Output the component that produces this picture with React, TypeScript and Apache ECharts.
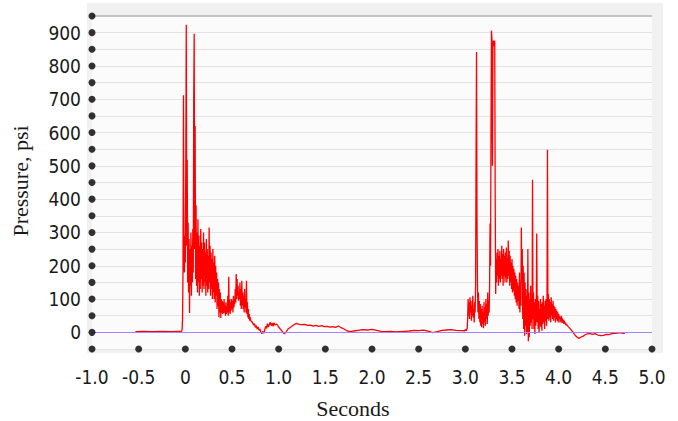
import React, { useEffect, useRef } from "react";
import * as echarts from "echarts";

// Axis ticks
const xTicks = [-1.0, -0.5, 0, 0.5, 1.0, 1.5, 2.0, 2.5, 3.0, 3.5, 4.0, 4.5, 5.0];
const yTicks = [-50, 0, 50, 100, 150, 200, 250, 300, 350, 400, 450, 500, 550, 600, 650, 700, 750, 800, 850, 900, 950];
const yLabelValues = [0, 100, 200, 300, 400, 500, 600, 700, 800, 900];

// Pressure trace (seconds, psi)
const preTrigger: [number, number][] = [
  [-0.535, 2], [-0.45, 3], [-0.35, 2], [-0.25, 3], [-0.15, 2], [-0.06, 3],
];

const burst1Start = -0.04;
const burst1Step = 0.005;
const burst1Values = [
  3, 8, 40, 180, 712, 240, 180, 290, 210, 520,
  924, 260, 518, 150, 330, 120, 280, 58, 250, 140,
  300, 110, 260, 150, 310, 180, 700, 897, 250, 620,
  160, 382, 140, 300, 120, 340, 150, 290, 110, 260,
  130, 310, 160, 270, 120, 250, 140, 300, 130, 270,
  150, 240, 110, 280, 140, 250, 120, 230, 130, 315,
  150, 260, 110, 240, 130, 220, 100, 250, 120, 210,
  100, 230, 90, 200, 110, 180, 70, 160, 80, 150,
  45, 130, 60, 120, 43, 100, 60, 95, 55, 90,
  58, 100, 60, 80, 50, 90, 55, 75, 60, 110,
  50, 167, 60, 100, 55, 90, 65, 100, 70, 95,
  60, 110, 75, 90, 85, 130, 90, 175, 100, 160,
  110, 140, 95, 120, 100, 150, 80, 130, 70, 155,
  80, 120, 70, 110, 60, 130, 75, 100, 60, 155,
  55, 90, 45, 70, 40, 55, 35, 45, 38, 33,
];

const settle: [number, number][] = [
  [0.72, 30], [0.73, 22], [0.74, 26], [0.75, 15], [0.76, 20], [0.77, 10], [0.78, 16], [0.79, 6],
  [0.80, 10], [0.81, 0], [0.82, -4], [0.83, 3], [0.84, -3], [0.85, 6], [0.86, 18], [0.87, 12],
  [0.88, 26], [0.89, 16], [0.90, 24], [0.91, 30], [0.92, 20], [0.93, 28], [0.94, 18], [0.95, 29],
  [0.96, 22], [0.98, 25], [1.00, 16], [1.02, 9], [1.04, 2], [1.06, -4], [1.08, 1], [1.10, 10],
  [1.13, 16], [1.16, 22], [1.19, 27], [1.22, 24], [1.25, 23], [1.28, 24], [1.31, 21], [1.34, 22],
  [1.37, 19], [1.40, 21], [1.43, 18], [1.46, 20], [1.49, 17], [1.52, 18], [1.55, 16], [1.58, 17],
  [1.61, 15], [1.64, 19], [1.67, 14], [1.70, 10], [1.73, 5], [1.76, 2], [1.80, 4], [1.85, 6],
  [1.90, 8], [1.95, 7], [2.00, 9], [2.05, 6], [2.10, 3], [2.15, 2], [2.20, 3], [2.25, 1],
  [2.30, 2], [2.35, 3], [2.40, 4], [2.45, 6], [2.50, 5], [2.55, 7], [2.60, 4], [2.65, -1],
  [2.70, 2], [2.75, 6], [2.80, 7], [2.85, 8], [2.90, 6], [2.95, 5],
];

const burst2Start = 2.98;
const burst2Step = 0.005;
const burst2Values = [
  5, 6, 4, 7, 6, 8, 5, 9, 12, 40,
  100, 50, 90, 40, 105, 60, 95, 35, 80, 50,
  110, 45, 70, 30, 90, 60, 140, 540, 842, 336,
  145, 60, 120, 40, 94, 30, 85, 20, 70, 15,
  80, 25, 60, 12, 90, 30, 75, 20, 100, 40,
  85, 25, 120, 50, 95, 60, 140, 327, 200, 600,
  906, 880, 500, 850, 876, 860, 870, 876, 400, 115,
  220, 150, 240, 170, 250, 140, 230, 160, 245, 150,
  220, 170, 260, 160, 235, 140, 250, 170, 230, 150,
  240, 165, 255, 150, 225, 160, 276, 170, 245, 140,
  230, 150, 210, 130, 220, 120, 200, 125, 190, 110,
  180, 100, 170, 90, 160, 80, 150, 95, 140, 70,
  180, 60, 150, 80, 315, 150, 250, 40, 200, 10,
  180, -10, 150, 20, 130, -5, 110, 0, 250, -27,
  120, -15, 100, 20, 140, 30, 90, 10, 458, 40,
  120, 10, 90, -5, 100, 20, 80, 297, 30, 110,
  10, 95, 0, 70, 20, 100, 15, 85, 5, 90,
  25, 110, 30, 80, 10, 95, 35, 100, 20, 90,
  548, 40, 115, 35, 100, 45, 90, 30, 105, 50,
  85, 40, 95, 35, 80, 45, 75, 30, 70, 40,
  65, 35, 60, 30, 55, 40, 50, 30, 45, 35,
  50, 28, 42, 30, 38, 25, 35, 28, 30, 22,
  25,
];

const tail: [number, number][] = [
  [4.10, 18], [4.12, 12], [4.14, 5], [4.16, -2], [4.18, -10], [4.20, -15], [4.22, -18], [4.24, -14],
  [4.26, -12], [4.28, -8], [4.30, -5], [4.33, -3], [4.36, -6], [4.39, -4], [4.42, -8], [4.45, -10],
  [4.48, -9], [4.51, -6], [4.54, -7], [4.57, -4], [4.60, -3], [4.63, -2], [4.66, -1], [4.69, -3],
  [4.71, -2],
];

export default function App() {
  const ref = useRef<HTMLDivElement>(null);
  useEffect(() => {
    if (!ref.current) return;
    const chart = echarts.init(ref.current, null, { renderer: "svg" });
    const trace: number[][] = [
      ...preTrigger,
      ...burst1Values.map((v, i) => [burst1Start + i * burst1Step, v]),
      ...settle,
      ...burst2Values.map((v, i) => [burst2Start + i * burst2Step, v]),
      ...tail,
    ];
    const dots: number[][] = [
      ...yTicks.map((v) => [xTicks[0], v]),
      ...xTicks.slice(1).map((t) => [t, yTicks[0]]),
    ];
    const titleFont = "Liberation Serif";
    const tickFont = "DejaVu Sans Condensed";
    chart.setOption({
      animation: false,
      backgroundColor: "#ffffff",
      grid: {
        left: 92, right: 26, top: 16, bottom: 72,
        show: true, backgroundColor: "#fbfbfb", borderWidth: 0,
      },
      xAxis: {
        type: "value", min: -1, max: 5, interval: 0.5,
        axisLine: { show: false }, axisTick: { show: false }, splitLine: { show: false },
        axisLabel: {
          fontFamily: tickFont, fontSize: 19, color: "#1a1a1a", margin: 18,
          formatter: (v: number) => (v === 0 ? "0" : v.toFixed(1)),
        },
      },
      yAxis: {
        type: "value", min: -50, max: 950, interval: 50,
        axisLine: { show: false }, axisTick: { show: false },
        splitLine: { show: true, lineStyle: { color: "#e3e3e3", width: 1 } },
        axisLabel: {
          fontFamily: tickFont, fontSize: 19, color: "#1a1a1a", margin: 11,
          formatter: (v: number) => (yLabelValues.includes(v) ? String(v) : ""),
        },
      },
      graphic: [
        {
          type: "rect", z: -100, silent: true,
          shape: { x: 87, y: 3, width: 576, height: 350 },
          style: { fill: "#f1f1f1" },
        },
        {
          type: "text", x: 20, y: 181, rotation: Math.PI / 2,
          style: {
            text: "Pressure, psi", font: `22px ${titleFont}`, fill: "#1a1a1a",
            textAlign: "center", textVerticalAlign: "middle",
          },
        },
        {
          type: "text", x: 353, y: 408,
          style: {
            text: "Seconds", font: `22px ${titleFont}`, fill: "#1a1a1a",
            textAlign: "center", textVerticalAlign: "middle",
          },
        },
      ],
      series: [
        {
          type: "line", data: trace, symbol: "none", showSymbol: false,
          lineStyle: { color: "#ff0000", width: 1.3 }, z: 3,
        },
        {
          type: "line", data: [], symbol: "none", z: 4,
          markLine: {
            silent: true, symbol: "none", label: { show: false },
            lineStyle: { color: "#a880ff", width: 1, type: "solid" },
            data: [{ yAxis: 0 }],
          },
        },
        {
          type: "line", data: [], symbol: "none", z: 2,
          markLine: {
            silent: true, symbol: "none", label: { show: false },
            lineStyle: { color: "#c4c4c4", width: 2, type: "solid" },
            data: [{ yAxis: yTicks[yTicks.length - 1] }],
          },
        },
        {
          type: "scatter", data: dots, symbol: "circle", symbolSize: 7,
          itemStyle: { color: "#000000" }, clip: false, z: 5,
        },
      ],
    });
    return () => chart.dispose();
  }, []);
  return (
    <div
      ref={ref}
      style={{ position: "fixed", left: 0, top: 0, width: 678, height: 421, background: "#ffffff" }}
    />
  );
}
